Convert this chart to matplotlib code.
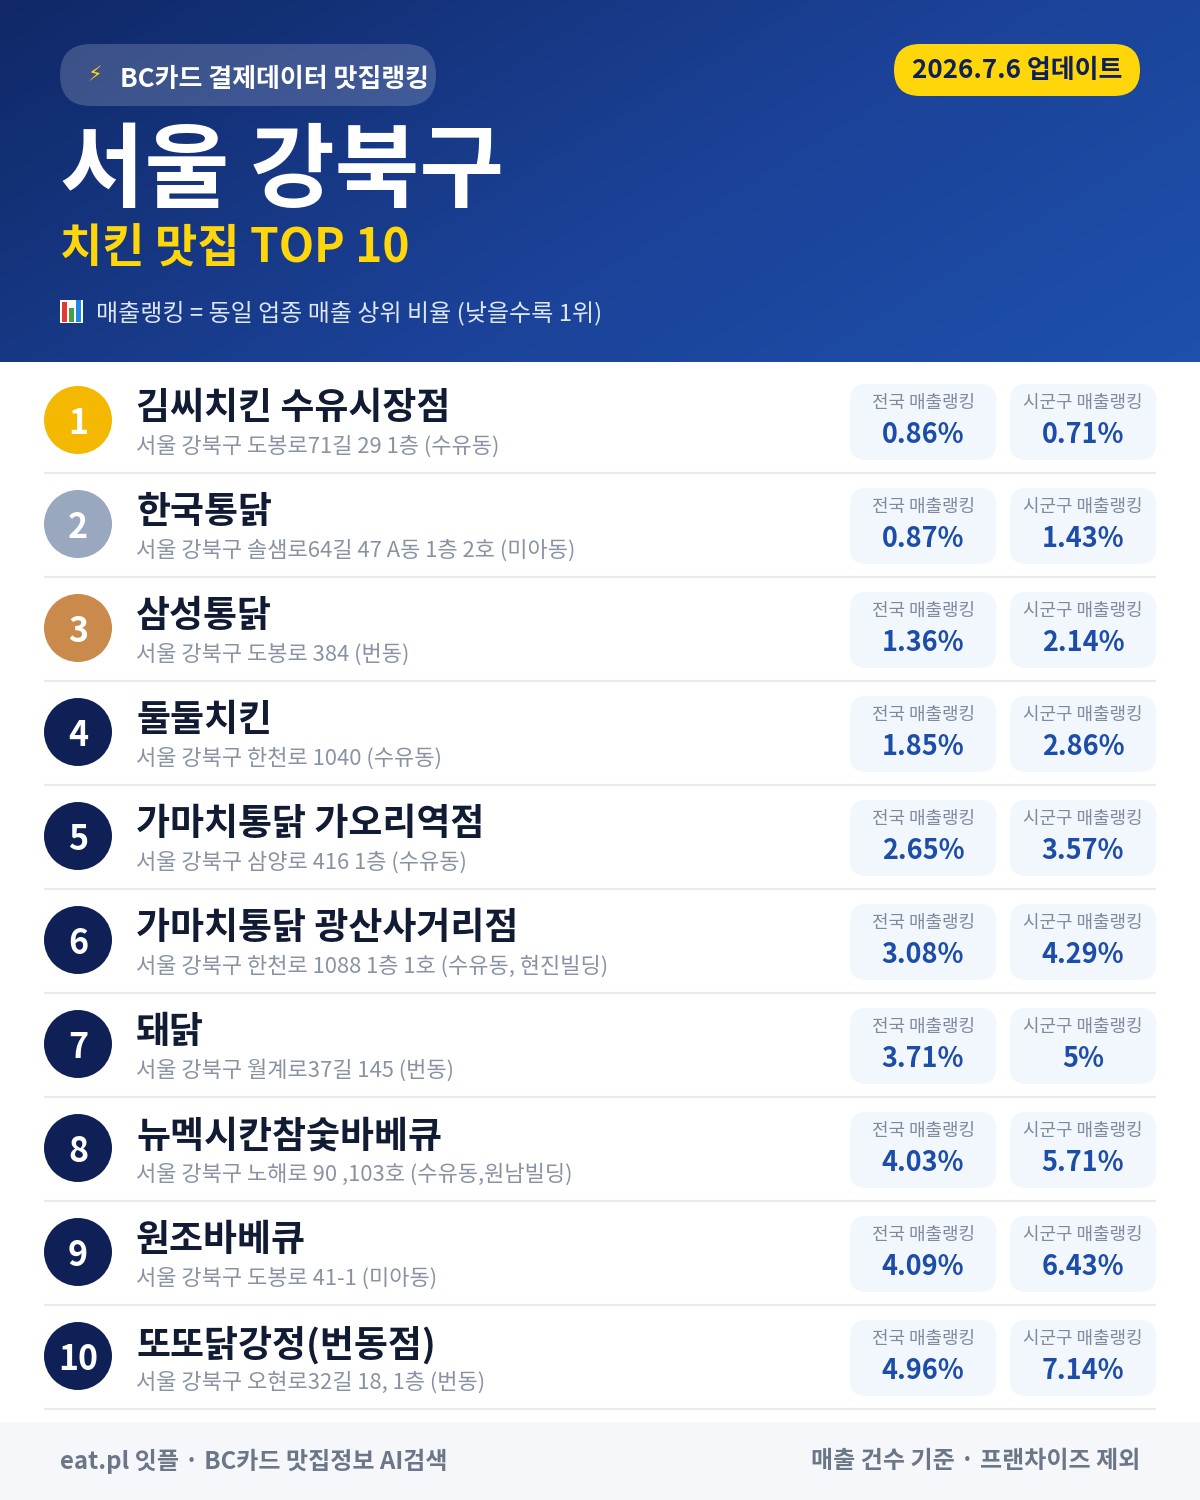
import matplotlib
matplotlib.use("Agg")
import matplotlib.pyplot as plt
import numpy as np
from matplotlib.patches import FancyBboxPatch, Circle, Rectangle

FONT = ['Noto Sans CJK KR', 'DejaVu Sans']
plt.rcParams['font.family'] = FONT

ranks = list(range(1, 11))
names = ["김씨치킨 수유시장점", "한국통닭", "삼성통닭", "둘둘치킨", "가마치통닭 가오리역점",
         "가마치통닭 광산사거리점", "돼닭", "뉴멕시칸참숯바베큐", "원조바베큐", "또또닭강정(번동점)"]
addresses = ["서울 강북구 도봉로71길 29 1층 (수유동)", "서울 강북구 솔샘로64길 47 A동 1층 2호 (미아동)",
             "서울 강북구 도봉로 384 (번동)", "서울 강북구 한천로 1040 (수유동)", "서울 강북구 삼양로 416 1층 (수유동)",
             "서울 강북구 한천로 1088 1층 1호 (수유동, 현진빌딩)", "서울 강북구 월계로37길 145 (번동)",
             "서울 강북구 노해로 90 ,103호 (수유동,원남빌딩)", "서울 강북구 도봉로 41-1 (미아동)",
             "서울 강북구 오현로32길 18, 1층 (번동)"]
national = ["0.86%", "0.87%", "1.36%", "1.85%", "2.65%", "3.08%", "3.71%", "4.03%", "4.09%", "4.96%"]
district = ["0.71%", "1.43%", "2.14%", "2.86%", "3.57%", "4.29%", "5%", "5.71%", "6.43%", "7.14%"]
circle_colors = ["#F5B800", "#9AA8BF", "#C98A4B"] + ["#0F2057"] * 7

fig = plt.figure(figsize=(12, 15), dpi=100, facecolor="white")
ax = fig.add_axes([0, 0, 1, 1])
ax.set_xlim(0, 1200); ax.set_ylim(1500, 0); ax.axis("off")

# header gradient (diagonal)
h, w = 362, 1200
yy, xx = np.mgrid[0:h, 0:w]
t = (xx * 0.85 + yy * 1.4) / (w * 0.85 + h * 1.4)
c0 = np.array([0x10, 0x28, 0x66]) / 255
c1 = np.array([0x1B, 0x42, 0x98]) / 255
c2 = np.array([0x1E, 0x50, 0xAC]) / 255
tt = t[..., None]
img = np.where(tt < .55, c0 + (c1 - c0) * tt / .55, c1 + (c2 - c1) * (tt - .55) / .45)
ax.imshow(img, extent=(0, w, h, 0), aspect="auto", zorder=0)
ax.set_xlim(0, 1200); ax.set_ylim(1500, 0)

def rbox(x, y, w_, h_, r, fc, ec="none", z=1, alpha=None):
    p = FancyBboxPatch((x + r, y + r), w_ - 2 * r, h_ - 2 * r, boxstyle=f"round,pad={r},rounding_size={r}",
                       fc=fc, ec=ec, lw=0, zorder=z, alpha=alpha)
    ax.add_patch(p)

def T(x, y, s, size, color, weight="bold", ha="left", z=5):
    ax.text(x, y, s, fontsize=size * 0.72, color=color, fontweight=weight, ha=ha, va="center_baseline", zorder=z)

rbox(60, 44, 376, 62, 31, "#FFFFFF", alpha=0.18)
ax.text(95, 75, "⚡", fontsize=15, color="#FFD60A", ha="center", va="center", zorder=5, family="DejaVu Sans")
T(120, 76, "BC카드 결제데이터 맛집랭킹", 26, "white")
rbox(894, 44, 246, 52, 26, "#FFD60A")
T(1017, 68, "2026.7.6 업데이트", 26, "#0F2057", ha="center")
T(60, 163, "서울 강북구", 92, "white")
T(60, 244, "치킨 맛집 TOP 10", 46, "#FFD60A")
# small bar chart glyph
for bx, bh, col in [(62, 20, "#E53935"), (69, 14, "#43A047"), (76, 22, "#1E88E5")]:
    ax.add_patch(Rectangle((bx, 322 - bh), 5, bh, fc=col, ec="none", zorder=5))
ax.add_patch(Rectangle((60, 300), 23, 23, fc="white", ec="none", zorder=4))
T(96, 311, "매출랭킹 = 동일 업종 매출 상위 비율 (낮을수록 1위)", 24, "#DCE6F7", weight="medium")

for i, r in enumerate(ranks):
    top = 362 + 104 * i
    cy = top + 60
    ax.add_patch(Circle((78, cy - 2), 34, fc=circle_colors[i], ec="none", zorder=3))
    T(78, cy - 2, str(r), 34, "white", ha="center")
    T(136, top + 43, names[i], 37, "#111C34")
    T(136, top + 82, addresses[i], 22, "#8892A3", weight="regular")
    ax.plot([44, 1156], [top + 111, top + 111], color="#E7EAEF", lw=1.6, zorder=2, solid_capstyle="butt")
    for bx, lab, val in [(850, "전국 매출랭킹", national[i]), (1010, "시군구 매출랭킹", district[i])]:
        rbox(bx, top + 22, 146, 76, 16, "#F2F6FD")
        T(bx + 73, top + 39, lab, 18, "#7F8A9C", ha="center", weight="medium")
        T(bx + 73, top + 70, val, 27, "#1C4DA8", ha="center")

ax.add_patch(Rectangle((0, 1422), 1200, 78, fc="#F6F7FB", ec="none", zorder=1))
T(60, 1459, "eat.pl 잇플 · BC카드 맛집정보 AI검색", 24, "#6B7688")
T(1140, 1459, "매출 건수 기준 · 프랜차이즈 제외", 24, "#6B7688", ha="right")

fig.savefig("out.png", dpi=100)
